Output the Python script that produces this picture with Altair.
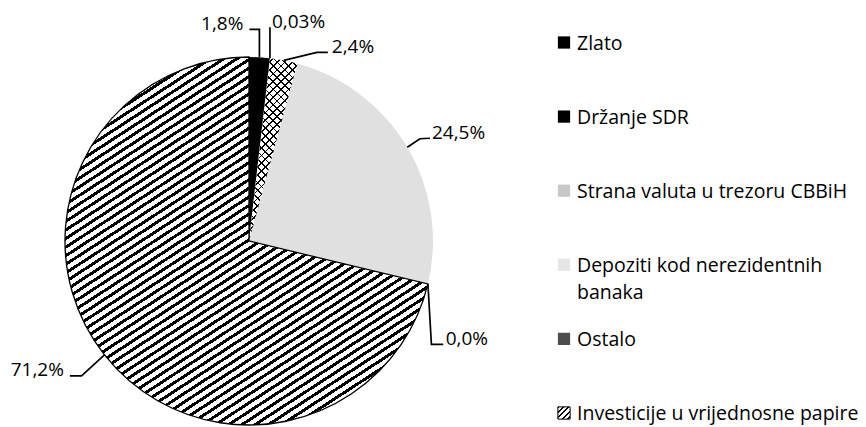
import math
import numpy as np
import pandas as pd
import altair as alt

# ---------------- data ----------------
categories = ["Zlato", "Držanje SDR", "Strana valuta u trezoru CBBiH",
              "Depoziti kod nerezidentnih banaka", "Ostalo",
              "Investicije u vrijednosne papire"]
legend_labels = ["Zlato", "Držanje SDR", "Strana valuta u trezoru CBBiH",
                 "Depoziti kod nerezidentnih\nbanaka", "Ostalo",
                 "Investicije u vrijednosne papire"]
shares = [1.8, 0.03, 2.4, 24.5, 0.0, 71.2]
pct_labels = ["1,8%", "0,03%", "2,4%", "24,5%", "0,0%", "71,2%"]

# ---------------- layout / style ----------------
W, H = 850, 419          # chart size (px)
CX, CY, R = 241, 233, 184  # pie centre and radius inside the chart (px)
FONT = "Open Sans"
# leader-line geometry relative to each slice's anchor point (px, dx, dy)
elbow_off = [(0, -28), (0, -31), (33, -8), (12.6, -8.5), (3.5, 60.5), (-23, 21)]
end_off = [(-10, -28), (0, -31), (44, -8), (22.6, -9), (15.3, 60.5), (-34.6, 21)]
text_off = [(-6, 0.5), (2, 0.5), (4, 0.5), (2, 0.5), (2.5, 0.5), (-6, 0.5)]
text_align = ["right", "left", "left", "left", "left", "right"]
base_colors = ["#000000", "#000000", "#ffffff", "#e0e0e0", "#4d4d4d", "#ffffff"]
legend_colors = ["#000000", "#000000", "#c8c8c8", "#e6e6e6", "#4d4d4d", "#ffffff"]
CLEAR = "rgba(0,0,0,0)"

# unit-circle coordinate scales (1 unit = R px)
xs = alt.Scale(domain=[-CX / R, (W - CX) / R], nice=False, zero=False)
ys = alt.Scale(domain=[-(H - CY) / R, CY / R], nice=False, zero=False)

# ---------------- derived geometry ----------------
vals = np.array(shares, dtype=float)
total = vals.sum()
cum = np.cumsum(vals)
a_start = (cum - vals) / total * 2 * np.pi
a_end = cum / total * 2 * np.pi
a_mid = (a_start + a_end) / 2


def slice_bbox(a0, a1):
    angs = np.linspace(a0, a1, 1441)
    px = np.concatenate([[0.0], R * np.sin(angs)])
    py = np.concatenate([[0.0], -R * np.cos(angs)])
    return px.max() - px.min(), py.max() - py.min()


def stripes(w, h, angle_deg, period, line, ink, paper):
    a = math.radians(angle_deg)
    nx, ny = math.sin(a), math.cos(a)
    S = abs(nx) * w + abs(ny) * h
    L2 = (nx * w) ** 2 + (ny * h) ** 2
    gx, gy = S / L2 * nx * w, S / L2 * ny * h
    x1 = 0.0 if nx >= 0 else 1.0
    y1 = 0.0 if ny >= 0 else 1.0
    N = S / period
    stops = []
    k = 0
    while k < N:
        s0 = round(k / N, 5)
        s1 = round(min((k + line / period) / N, 1.0), 5)
        s2 = round(min((k + 1) / N, 1.0), 5)
        stops += [{"offset": s0, "color": ink}, {"offset": s1, "color": ink},
                  {"offset": s1, "color": paper}, {"offset": s2, "color": paper}]
        k += 1
    return {"gradient": "linear", "x1": x1, "y1": y1,
            "x2": round(x1 + gx, 5), "y2": round(y1 + gy, 5), "stops": stops}


def is_cat(c):
    return "datum.cat === '%s'" % c


pie_df = pd.DataFrame({"cat": categories, "value": shares,
                       "idx": list(range(len(categories)))})

rows = []
trows = []
for i, c in enumerate(categories):
    au, av = math.sin(a_mid[i]), math.cos(a_mid[i])
    pts = [(0, 0), elbow_off[i], end_off[i]]
    for s, (dx, dy) in enumerate(pts):
        rows.append({"cat": c, "step": s, "u": au + dx / R, "v": av - dy / R})
    ex, ey = end_off[i]
    tx, ty = text_off[i]
    trows.append({"cat": c, "label": pct_labels[i], "align": text_align[i],
                  "tu": au + (ex + tx) / R, "tv": av - (ey + ty) / R})
lead_df = pd.DataFrame(rows)
text_df = pd.DataFrame(trows)
leg_df = pd.DataFrame({"cat": categories, "leg": legend_labels})

inv = categories[5]
strana = categories[2]
w_inv, h_inv = slice_bbox(a_start[5], a_end[5])
w_st, h_st = slice_bbox(a_start[2], a_end[2])
grad_inv = stripes(w_inv, h_inv, 33, 7.2, 3.0, "#000000", CLEAR)
grad_st_a = stripes(w_st, h_st, 45, 5.5, 1.2, "#000000", CLEAR)
grad_st_b = stripes(w_st, h_st, -45, 5.5, 1.2, "#000000", CLEAR)
grad_leg = stripes(12.2, 12.2, 45, 3.6, 1.4, "#000000", "#ffffff")


def arc_layer(fill, stroke=None, sw=0):
    enc = dict(
        theta=alt.Theta("value:Q", stack=True),
        order=alt.Order("idx:Q"),
        x=alt.XDatum(0, scale=xs, axis=None),
        y=alt.YDatum(0, scale=ys, axis=None),
        fill=fill,
    )
    if stroke is not None:
        enc["stroke"] = stroke
    return alt.Chart(pie_df).mark_arc(radius=R, strokeWidth=sw).encode(**enc)


base = arc_layer(alt.Fill("cat:N", scale=alt.Scale(domain=categories, range=base_colors),
                          legend=None))
over_a = arc_layer(
    {"condition": [{"test": is_cat(inv), "value": grad_inv},
                   {"test": is_cat(strana), "value": grad_st_a}],
     "value": CLEAR},
    stroke={"condition": {"test": is_cat(inv), "value": "#000000"}, "value": CLEAR},
    sw=1.3,
)
over_b = arc_layer(
    {"condition": [{"test": is_cat(strana), "value": grad_st_b}], "value": CLEAR})

lines = alt.Chart(lead_df).mark_line(color="#000000", strokeWidth=1.7).encode(
    x=alt.X("u:Q", scale=xs, axis=None),
    y=alt.Y("v:Q", scale=ys, axis=None),
    detail="cat:N",
    order="step:Q",
)


def pct_text(align):
    return alt.Chart(text_df).transform_filter(
        "datum.align === '%s'" % align
    ).mark_text(align=align, baseline="alphabetic", font=FONT, fontSize=19,
                color="#000000").encode(
        x=alt.X("tu:Q", scale=xs, axis=None),
        y=alt.Y("tv:Q", scale=ys, axis=None),
        text="label:N",
    )


pie = alt.layer(base, over_a, over_b, lines, pct_text("left"), pct_text("right"))

ys_leg = alt.Scale(type="point", domain=categories, range=[34.5, 405], padding=0)
leg_fill = {"condition": [{"test": is_cat(inv), "value": grad_leg}] +
            [{"test": is_cat(c), "value": col} for c, col in zip(categories[:5], legend_colors[:5])],
            "value": "#ffffff"}
leg_sym = alt.Chart(leg_df).mark_point(shape="square", size=150, filled=True,
                                       opacity=1, strokeWidth=1).encode(
    x=alt.value(556),
    y=alt.Y("cat:N", scale=ys_leg, axis=None),
    fill=leg_fill,
    stroke={"condition": {"test": is_cat(inv), "value": "#000000"}, "value": CLEAR},
)
leg_txt = alt.Chart(leg_df).mark_text(align="left", baseline="alphabetic", dy=7,
                                      lineBreak="\n", lineHeight=27, font=FONT,
                                      fontSize=19.5, color="#000000").encode(
    x=alt.value(569),
    y=alt.Y("cat:N", scale=ys_leg, axis=None),
    text="leg:N",
)
legend = alt.layer(leg_sym, leg_txt)

chart = alt.layer(pie, legend).resolve_scale(
    x="independent", y="independent"
).properties(
    width=W, height=H, padding=0,
    autosize=alt.AutoSizeParams(type="none"),
    background="#ffffff",
).configure_view(stroke=None)

chart.save("out.html", embed_options={"renderer": "svg", "actions": False})
